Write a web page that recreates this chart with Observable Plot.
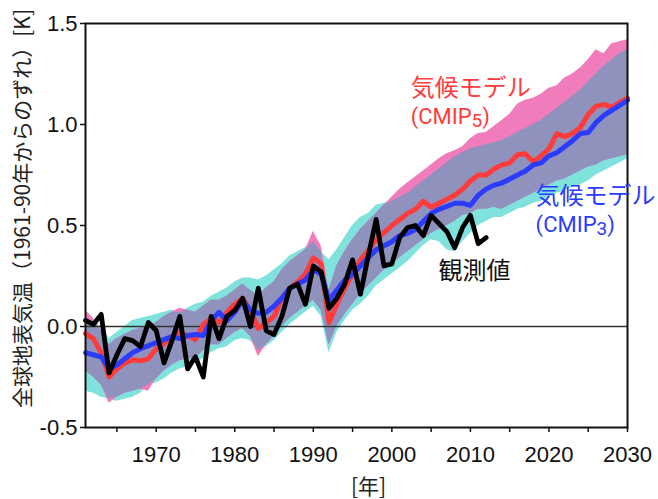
<!DOCTYPE html>
<html>
<head>
<meta charset="utf-8">
<script src="https://cdn.jsdelivr.net/npm/d3@7"></script>
<script src="https://cdn.jsdelivr.net/npm/@observablehq/plot@0.6"></script>
<style>
  body { margin: 0; background: #fff; }
</style>
</head>
<body>
<div id="chart"></div>
<script>
// ---- Data ----
const years = d3.range(1961, 2031); // 1961 … 2030

// CMIP5 multi-model mean (red)
const cmip5Mean = [
  -0.035, -0.06, -0.13, -0.25, -0.21, -0.18, -0.165, -0.17, -0.16, -0.11,
  -0.085, -0.05, -0.03, -0.045, -0.065, 0.01, 0.04, 0.02, 0.07, 0.11,
  0.14, 0.08, -0.01, 0.02, 0.05, 0.14, 0.19, 0.22, 0.26, 0.34,
  0.31, 0.02, 0.11, 0.19, 0.26, 0.33, 0.375, 0.43, 0.465, 0.50,
  0.53, 0.56, 0.58, 0.62, 0.59, 0.61, 0.63, 0.65, 0.68, 0.72,
  0.75, 0.75, 0.78, 0.80, 0.81, 0.85, 0.855, 0.815, 0.845, 0.88,
  0.955, 0.94, 0.955, 0.985, 1.05, 1.09, 1.10, 1.085, 1.11, 1.13
];
// CMIP3 multi-model mean (blue)
const cmip3Mean = [
  -0.13, -0.14, -0.15, -0.21, -0.19, -0.16, -0.13, -0.11, -0.095, -0.08,
  -0.065, -0.05, -0.06, -0.045, -0.04, -0.045, 0.03, 0.07, 0.03, 0.07,
  0.13, 0.08, 0.065, 0.07, 0.10, 0.14, 0.19, 0.21, 0.23, 0.28,
  0.26, 0.13, 0.18, 0.23, 0.26, 0.30, 0.34, 0.38, 0.40, 0.42,
  0.45, 0.46, 0.48, 0.52, 0.56, 0.58, 0.595, 0.61, 0.61, 0.60,
  0.65, 0.68, 0.70, 0.71, 0.73, 0.75, 0.77, 0.80, 0.81, 0.845,
  0.86, 0.89, 0.92, 0.955, 0.96, 1.01, 1.045, 1.07, 1.095, 1.12
];
// CMIP5 range (pink)
const cmip5Low = [
  -0.22, -0.25, -0.29, -0.38, -0.35, -0.33, -0.32, -0.31, -0.32, -0.26,
  -0.22, -0.19, -0.17, -0.16, -0.16, -0.12, -0.09, -0.09, -0.06, -0.03,
  -0.01, -0.05, -0.15, -0.09, -0.05, 0.00, 0.04, 0.07, 0.10, 0.13,
  0.08, -0.09, 0.00, 0.06, 0.11, 0.16, 0.20, 0.24, 0.28, 0.31,
  0.34, 0.37, 0.40, 0.43, 0.46, 0.48, 0.50, 0.52, 0.55, 0.56,
  0.58, 0.58, 0.59, 0.58, 0.60, 0.62, 0.64, 0.66, 0.68, 0.70,
  0.72, 0.73, 0.75, 0.77, 0.79, 0.80, 0.82, 0.83, 0.84, 0.85
];
const cmip5High = [
  0.08, 0.04, -0.02, -0.09, -0.06, -0.04, -0.02, -0.01, 0.00, 0.02,
  0.05, 0.07, 0.09, 0.08, 0.07, 0.10, 0.13, 0.13, 0.15, 0.18,
  0.21, 0.18, 0.15, 0.19, 0.22, 0.28, 0.32, 0.35, 0.38, 0.47,
  0.40, 0.18, 0.30, 0.37, 0.43, 0.48, 0.52, 0.56, 0.60, 0.64,
  0.68, 0.71, 0.74, 0.77, 0.80, 0.83, 0.855, 0.87, 0.89, 0.93,
  0.955, 0.96, 0.99, 1.02, 1.05, 1.10, 1.12, 1.13, 1.15, 1.18,
  1.19, 1.23, 1.25, 1.28, 1.32, 1.37, 1.35, 1.40, 1.41, 1.42
];
// CMIP3 range (cyan)
const cmip3Low = [
  -0.32, -0.33, -0.35, -0.36, -0.37, -0.36, -0.35, -0.33, -0.29, -0.28,
  -0.26, -0.23, -0.21, -0.20, -0.18, -0.16, -0.13, -0.11, -0.10, -0.07,
  -0.06, -0.07, -0.12, -0.10, -0.07, -0.03, 0.01, 0.04, 0.07, 0.10,
  0.05, -0.13, -0.03, 0.03, 0.08, 0.11, 0.15, 0.20, 0.23, 0.26,
  0.29, 0.32, 0.36, 0.40, 0.43, 0.42, 0.38, 0.37, 0.42, 0.46,
  0.50, 0.52, 0.54, 0.54, 0.56, 0.58, 0.59, 0.61, 0.62, 0.64,
  0.66, 0.67, 0.69, 0.70, 0.72, 0.75, 0.77, 0.79, 0.81, 0.83
];
const cmip3High = [
  0.03, 0.02, 0.00, -0.06, -0.03, 0.00, 0.03, 0.04, 0.05, 0.06,
  0.07, 0.08, 0.07, 0.09, 0.11, 0.12, 0.15, 0.17, 0.19, 0.22,
  0.24, 0.24, 0.23, 0.25, 0.28, 0.31, 0.35, 0.37, 0.39, 0.42,
  0.37, 0.33, 0.38, 0.44, 0.50, 0.54, 0.56, 0.60, 0.61, 0.62,
  0.64, 0.66, 0.69, 0.72, 0.75, 0.78, 0.81, 0.84, 0.86, 0.88,
  0.89, 0.90, 0.91, 0.92, 0.94, 0.96, 0.98, 1.00, 1.02, 1.05,
  1.08, 1.11, 1.14, 1.17, 1.21, 1.25, 1.29, 1.32, 1.35, 1.37
];
// Observations (black), 1961 … 2012
const obsYears = d3.range(1961, 2013);
const observed = [
  0.03, 0.01, 0.06, -0.23, -0.14, -0.06, -0.07, -0.10, 0.02, -0.02,
  -0.18, -0.07, 0.05, -0.21, -0.15, -0.25, 0.05, -0.06, 0.05, 0.08,
  0.14, 0.00, 0.19, -0.02, -0.04, 0.05, 0.19, 0.21, 0.11, 0.30,
  0.27, 0.09, 0.14, 0.21, 0.33, 0.16, 0.35, 0.53, 0.30, 0.31,
  0.44, 0.49, 0.50, 0.45, 0.55, 0.51, 0.47, 0.39, 0.49, 0.55,
  0.41, 0.44
];

// Axis ticks and texts
const xMajorTicks = [1970, 1980, 1990, 2000, 2010, 2020, 2030];
const xMinorTicks = [1965, 1975, 1985, 1995, 2005, 2015, 2025];
const yTicks = [-0.5, 0.0, 0.5, 1.0, 1.5];
const yLabel = "全球地表気温（1961-90年からのずれ）[K]";
const xLabel = "[年]";
const cmip5Label = "気候モデル\n(CMIP5)";
const cmip3Label = "気候モデル\n(CMIP3)";
const obsLabel = "観測値";

// ---- Build tables ----
const rows = years.map((year, i) => {
  const ovLo = Math.max(cmip5Low[i], cmip3Low[i]);
  const ovHi = Math.max(ovLo, Math.min(cmip5High[i], cmip3High[i]));
  return {
    year,
    c5m: cmip5Mean[i], c3m: cmip3Mean[i],
    c5lo: cmip5Low[i], c5hi: cmip5High[i],
    c3lo: cmip3Low[i], c3hi: cmip3High[i],
    ovLo, ovHi
  };
});
const obsRows = obsYears.map((year, i) => ({year, v: observed[i]}));

const JP = "'Noto Sans CJK JP', 'Noto Sans', sans-serif";
const LATIN = "Roboto, 'Liberation Sans', sans-serif";
const PINK = "#f07cbc";
const CYAN = "#80e2dc";
const OVER = "#8f92bd";
const RED = "#ff3b3b";
const BLUE = "#2b3cff";

const chart = Plot.plot({
  width: 658,
  height: 499,
  marginLeft: 85,
  marginRight: 31,
  marginTop: 23,
  marginBottom: 72,
  style: {fontFamily: "'Liberation Sans', Arial, sans-serif", background: "#fff", color: "#111"},
  x: {domain: [1961, 2030]},
  y: {domain: [-0.5, 1.5]},
  marks: [
    Plot.areaY(rows, {x: "year", y1: "c3lo", y2: "c3hi", fill: CYAN}),
    Plot.areaY(rows, {x: "year", y1: "c5lo", y2: "c5hi", fill: PINK}),
    Plot.areaY(rows, {x: "year", y1: "ovLo", y2: "ovHi", fill: OVER}),
    Plot.ruleY([0], {stroke: "#333", strokeWidth: 1.5}),
    Plot.lineY(rows, {x: "year", y: "c5m", stroke: RED, strokeWidth: 5}),
    Plot.lineY(rows, {x: "year", y: "c3m", stroke: BLUE, strokeWidth: 5}),
    Plot.lineY(obsRows, {x: "year", y: "v", stroke: "#000", strokeWidth: 4.8}),
    Plot.frame({stroke: "#111", strokeWidth: 2}),
    Plot.axisX({ticks: xMajorTicks, tickSize: 5, tickPadding: 14, fontSize: 22,
                tickFormat: d => String(d), label: null, strokeWidth: 1.5}),
    Plot.axisX({ticks: xMinorTicks, tickSize: 5, fill: "none", label: null, strokeWidth: 1.5}),
    Plot.axisY({ticks: yTicks, tickSize: 5, tickPadding: 3, fontSize: 22,
                tickFormat: d => d.toFixed(1), label: null, strokeWidth: 1.5}),
    Plot.text([yLabel], {frameAnchor: "left", textAnchor: "middle", rotate: -90,
                dx: -62, dy: -17, fontSize: 21, fontFamily: JP, fill: "#222"}),
    Plot.text([xLabel], {frameAnchor: "bottom", lineAnchor: "middle",
                dx: 12, dy: 60, fontSize: 21, fontFamily: JP, fill: "#222"}),
    Plot.text([cmip5Label], {x: 2002.4, y: 1.003, textAnchor: "start", lineAnchor: "bottom",
                lineHeight: 1.1667, fontSize: 24, fontFamily: JP, fill: RED}),
    Plot.text([cmip3Label], {x: 2018.3, y: 0.468, textAnchor: "start", lineAnchor: "bottom",
                lineHeight: 1.1667, fontSize: 24, fontFamily: JP, fill: BLUE}),
    Plot.text([obsLabel], {x: 2005.95, y: 0.233, textAnchor: "start", lineAnchor: "bottom",
                fontSize: 24, fontFamily: JP, fill: "#111"})
  ]
});

// Second label line: "(CMIPn)" with the model number smaller and lowered, as in the reference
d3.select(chart).selectAll("text tspan").each(function () {
  const m = this.textContent.match(/^\(CMIP(\d)\)$/);
  if (!m) return;
  const line = d3.select(this);
  line.text(null).attr("dy", 28).attr("font-size", 22).attr("font-family", LATIN);
  line.append("tspan").text("(CMIP");
  line.append("tspan").attr("font-size", 19).attr("dy", 3).text(m[1]);
  line.append("tspan").attr("font-size", 22).attr("dy", -3).text(")");
});

document.getElementById("chart").appendChild(chart);
</script>
</body>
</html>
